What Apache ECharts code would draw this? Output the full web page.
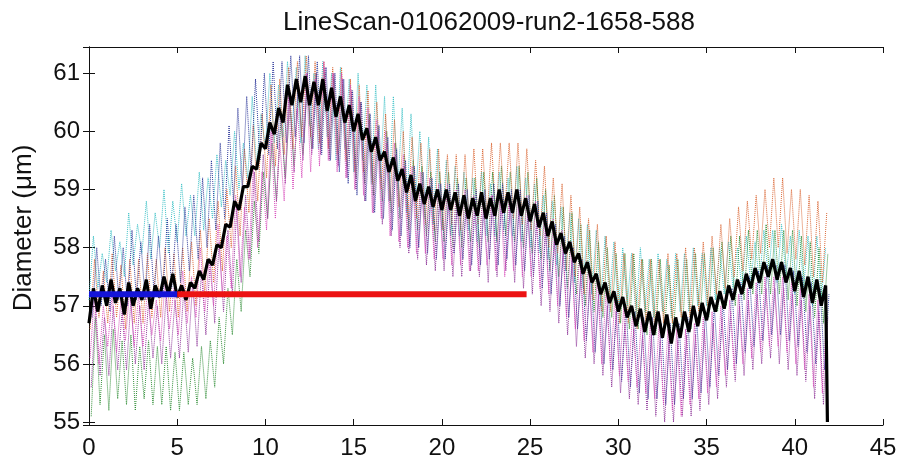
<!DOCTYPE html>
<html>
<head>
<meta charset="utf-8">
<script src="https://cdn.jsdelivr.net/npm/echarts@6/dist/echarts.min.js"></script>
<style>
html,body{margin:0;padding:0;background:#fff;}
#chart{width:900px;height:461px;}
</style>
</head>
<body>
<div id="chart"></div>
<script>
const titleText = 'LineScan-01062009-run2-1658-588';
const yAxisName = 'Diameter (\u03bcm)';
const xTicks = [0, 5, 10, 15, 20, 25, 30, 35, 40, 45];
const yTicks = [55, 56, 57, 58, 59, 60, 61];

// sample positions (time) for all traces; last sample is the end drop
const xStep = 0.25;
const xs = Array.from({length: 168}, (_, i) => i * xStep);
xs.push(41.85);

// mean diameter (black)
const meanTrace = [
56.7,57.3,56.9,57.35, 57.0,57.45,57.05,57.3, 56.85,57.4,57.0,57.3, 57.1,57.45,56.95,57.35,
57.15,57.5,57.2,57.55, 57.15,57.35,57.1,57.4, 57.3,57.6,57.45,57.8, 57.7,58.05,58.0,58.4,
58.35,58.8,58.65,59.05, 59.05,59.4,59.35,59.8, 59.7,60.15,59.95,60.4, 60.15,60.8,60.45,60.9,
60.5,60.95,60.45,60.85, 60.45,60.9,60.35,60.75, 60.25,60.6,60.15,60.45, 60.0,60.3,59.85,60.05,
59.65,59.9,59.5,59.65, 59.3,59.55,59.15,59.35, 58.95,59.25,58.8,59.1, 58.75,59.05,58.7,59.0,
58.65,59.0,58.65,58.95, 58.55,58.9,58.5,58.85, 58.55,58.95,58.5,58.85, 58.55,59.0,58.6,58.95,
58.6,59.0,58.55,58.85, 58.45,58.75,58.35,58.6, 58.2,58.45,58.05,58.25, 57.9,58.1,57.75,57.9,
57.55,57.75,57.4,57.55, 57.2,57.4,57.05,57.25, 56.9,57.15,56.8,57.0, 56.65,56.95,56.55,56.9,
56.5,56.9,56.45,56.85, 56.35,56.8,56.45,56.9, 56.55,57.0,56.65,57.05, 56.75,57.15,56.9,57.25,
56.95,57.35,57.1,57.45, 57.2,57.55,57.3,57.65, 57.4,57.75,57.5,57.8, 57.45,57.75,57.4,57.65,
57.25,57.6,57.15,57.5, 57.05,57.45,57.0,57.35, 55.0
];

const cyanTrace = [
57.1,58.2,57.3,57.9, 57.4,58.3,57.6,58.1, 57.5,58.6,57.7,58.4, 57.9,58.8,57.8,58.6,
58.0,59.0,57.9,58.8, 58.1,59.1,58.2,58.9, 58.2,59.3,58.3,59.2, 58.5,59.6,58.7,59.5,
58.9,60.0,59.0,59.8, 59.2,60.6,59.4,60.3, 59.7,61.0,59.8,60.8, 59.9,61.2,60.0,61.1,
59.8,61.3,60.1,61.0, 59.7,61.2,59.9,61.0, 59.5,61.1,59.7,60.9, 59.3,61.0,59.5,60.8,
59.1,60.8,59.2,60.6, 58.8,60.6,59.0,60.4, 58.6,60.3,58.8,60.0, 58.5,59.9,58.4,59.7,
58.3,59.5,58.2,59.4, 58.2,59.3,58.3,59.2, 58.1,59.3,58.2,59.1, 58.2,59.3,58.3,59.2,
58.2,59.4,58.1,59.2, 58.0,59.1,57.9,58.9, 57.8,58.8,57.7,58.7, 57.6,58.6,57.4,58.5,
57.3,58.4,57.2,58.3, 57.0,58.2,57.1,58.1, 56.9,58.0,57.0,57.9, 56.8,58.0,56.9,57.8,
56.8,57.9,56.9,57.8, 56.8,57.9,56.9,57.9, 56.9,58.0,57.0,57.9, 57.0,58.0,57.1,58.0,
57.2,58.1,57.3,58.0, 57.3,58.2,57.4,58.1, 57.4,58.3,57.5,58.3, 57.4,58.4,57.5,58.2,
57.2,58.3,57.3,58.2, 57.0,58.2,57.1,58.0
];

const magentaTrace = [
56.1,57.2,56.0,57.0, 56.3,57.2,56.2,57.1, 56.4,57.3,56.3,57.2, 56.3,57.3,56.5,57.1,
56.4,57.4,56.6,57.3, 56.5,57.6,56.7,57.5, 56.8,58.0,56.9,57.8, 57.0,58.4,57.2,58.2,
57.3,58.9,57.5,58.7, 57.8,59.4,58.0,59.3, 58.3,60.0,58.5,59.8, 58.8,60.6,59.0,60.4,
59.2,61.0,59.3,60.9, 59.4,61.2,59.5,61.0, 59.3,61.0,59.2,60.8, 59.0,60.6,58.9,60.4,
58.6,60.2,58.5,60.0, 58.2,59.8,58.1,59.6, 58.0,59.4,57.9,59.3, 57.9,59.2,57.8,59.1,
57.8,59.1,57.7,59.0, 57.7,59.0,57.6,58.9, 57.6,58.9,57.7,58.9, 57.6,59.0,57.5,58.9,
57.6,59.0,57.5,58.9, 57.5,58.8,57.3,58.6, 57.2,58.5,57.0,58.3, 56.8,58.1,56.6,57.9,
56.4,57.7,56.2,57.5, 56.0,57.3,55.9,57.2, 55.8,57.0,55.7,56.9, 55.6,56.8,55.5,56.7,
55.4,56.7,55.3,56.6, 55.2,56.6,55.1,56.6, 55.3,56.7,55.4,56.8, 55.5,56.9,55.6,57.0,
55.8,57.1,55.9,57.2, 56.0,57.3,56.1,57.4, 56.2,57.5,56.3,57.5, 56.3,57.5,56.2,57.4,
56.0,57.3,55.9,57.2, 55.6,57.1,55.5,56.9
];

const greenTrace = [
55.1,56.8,55.3,56.5, 55.2,56.6,55.4,56.4, 55.3,56.5,55.2,56.3, 55.4,56.4,55.3,56.3,
55.3,56.3,55.2,56.2, 55.2,56.2,55.3,56.1, 55.3,56.3,55.4,56.4, 55.6,56.8,56.0,57.3,
56.5,57.8,56.9,58.3, 57.5,58.8,57.9,59.3, 58.5,59.8,58.8,60.2, 59.2,60.5,59.4,60.7,
59.6,60.9,59.7,61.0, 59.7,61.0,59.6,60.9, 59.5,60.8,59.4,60.6, 59.2,60.5,59.1,60.3,
58.9,60.1,58.8,60.0, 58.6,59.8,58.5,59.6, 58.3,59.5,58.3,59.4, 58.2,59.3,58.1,59.3,
58.1,59.3,58.0,59.2, 58.0,59.2,58.1,59.2, 58.0,59.3,58.1,59.3, 58.1,59.4,58.2,59.3,
58.1,59.4,58.0,59.3, 57.9,59.2,57.8,59.0, 57.6,58.9,57.5,58.7, 57.3,58.6,57.2,58.4,
57.0,58.3,56.9,58.1, 56.8,58.0,56.8,57.9, 56.7,57.9,56.6,57.9, 56.6,57.8,56.5,57.8,
56.5,57.8,56.6,57.7, 56.5,57.8,56.6,57.8, 56.6,57.9,56.7,57.9, 56.8,58.0,56.9,58.1,
57.0,58.2,57.0,58.2, 57.1,58.3,57.2,58.3, 57.2,58.4,57.2,58.3, 57.2,58.3,57.1,58.3,
57.0,58.2,56.9,58.1, 56.8,58.0,56.7,57.9
];

const blueTrace = [
56.8,58.0,57.0,57.8, 56.9,58.2,57.1,58.0, 57.0,58.3,57.1,58.1, 57.1,58.4,57.2,58.2,
57.2,58.5,57.3,58.4, 57.4,58.7,57.6,58.9, 57.8,59.2,58.0,59.5, 58.3,59.8,58.5,60.1,
58.8,60.4,59.0,60.6, 59.3,60.9,59.5,61.0, 59.6,61.2,59.7,61.2, 59.8,61.3,59.9,61.3,
59.8,61.3,59.7,61.2, 59.6,61.1,59.5,61.0, 59.3,60.9,59.1,60.7, 58.9,60.5,58.8,60.3,
58.6,60.1,58.5,59.9, 58.3,59.7,58.2,59.5, 58.0,59.4,58.0,59.3, 57.9,59.2,57.8,59.1,
57.8,59.1,57.9,59.1, 57.8,59.0,57.7,59.0, 57.7,59.0,57.8,59.1, 57.7,59.1,57.8,59.0,
57.7,59.0,57.6,58.9, 57.5,58.8,57.3,58.6, 57.2,58.4,57.0,58.2, 56.8,58.0,56.6,57.8,
56.4,57.6,56.2,57.4, 56.0,57.2,55.9,57.1, 55.7,57.0,55.6,56.9, 55.5,56.8,55.4,56.8,
55.4,56.7,55.3,56.7, 55.3,56.7,55.4,56.8, 55.4,56.8,55.5,56.9, 55.6,57.0,55.8,57.1,
55.9,57.3,56.0,57.4, 56.2,57.5,56.3,57.6, 56.4,57.7,56.5,57.7, 56.5,57.7,56.4,57.6,
56.3,57.5,56.2,57.4, 56.0,57.3,55.9,57.2
];

const orangeTrace = [
56.6,57.8,56.8,57.6, 56.7,57.9,56.8,57.7, 56.6,57.8,56.7,57.8, 56.7,57.9,56.8,57.8,
56.8,58.0,56.9,57.9, 56.8,58.0,56.9,58.1, 57.0,58.3,57.2,58.5, 57.4,58.8,57.6,59.0,
58.0,59.4,58.2,59.7, 58.6,60.1,58.8,60.3, 59.2,60.8,59.4,60.9, 59.6,61.1,59.7,61.2,
59.9,61.3,59.9,61.2, 59.8,61.2,59.7,61.1, 59.6,61.1,59.5,60.9, 59.3,60.8,59.3,60.7,
59.1,60.5,59.0,60.3, 58.8,60.2,58.7,60.0, 58.5,59.9,58.5,59.8, 58.4,59.7,58.3,59.7,
58.3,59.6,58.4,59.6, 58.3,59.6,58.4,59.7, 58.4,59.7,58.5,59.8, 58.5,59.8,58.6,59.8,
58.5,59.8,58.4,59.7, 58.3,59.5,58.2,59.4, 58.0,59.2,57.9,59.1, 57.6,58.9,57.5,58.7,
57.2,58.5,57.1,58.4, 56.9,58.2,56.9,58.1, 56.7,57.9,56.7,57.9, 56.6,57.8,56.7,57.8,
56.6,57.8,56.7,57.9, 56.7,57.9,56.8,58.0, 56.8,58.0,56.9,58.1, 57.0,58.2,57.2,58.4,
57.3,58.5,57.5,58.7, 57.6,58.8,57.8,58.9, 57.9,59.0,58.0,59.2, 58.0,59.2,57.9,59.0,
57.8,59.0,57.7,58.9, 57.5,58.8,57.4,58.6
];

const purpleTrace = [
55.6,57.0,55.8,56.8, 55.8,57.0,55.9,56.9, 55.9,57.1,56.0,57.0, 55.9,57.1,56.1,57.0,
56.0,57.2,56.1,57.1, 56.1,57.3,56.2,57.4, 56.3,57.6,56.5,57.8, 56.7,58.1,56.9,58.3,
57.2,58.7,57.4,58.9, 57.8,59.3,58.1,59.6, 58.5,60.0,58.8,60.3, 59.1,60.6,59.3,60.8,
59.5,61.0,59.6,61.0, 59.6,61.1,59.5,61.0, 59.4,60.9,59.2,60.7, 59.0,60.5,58.8,60.2,
58.6,60.0,58.4,59.8, 58.2,59.6,58.0,59.4, 57.9,59.2,57.8,59.1, 57.7,59.0,57.6,58.9,
57.6,58.9,57.5,58.8, 57.5,58.8,57.6,58.8, 57.5,58.8,57.4,58.9, 57.5,58.9,57.6,58.9,
57.4,58.8,57.3,58.7, 57.2,58.5,57.0,58.4, 56.9,58.2,56.7,58.0, 56.5,57.8,56.3,57.6,
56.1,57.4,56.0,57.2, 55.8,57.0,55.6,56.9, 55.5,56.7,55.4,56.6, 55.3,56.5,55.2,56.5,
55.1,56.4,55.0,56.4, 55.0,56.4,55.1,56.5, 55.1,56.5,55.2,56.6, 55.3,56.7,55.4,56.8,
55.6,56.9,55.7,57.0, 55.8,57.1,55.9,57.2, 56.0,57.3,56.1,57.3, 56.0,57.3,55.9,57.2,
55.8,57.1,55.7,57.0, 55.4,56.9,55.3,56.8
];

// baseline segments: [xStart, xEnd, level]
const baselineBlue = [0, 5.0, 57.2];
const baselineRed = [5.0, 24.8, 57.2];

// each trace was sampled on its own slightly shifted time grid
const traces = [
  {name: 'cyan', values: cyanTrace, color: '#36bfc4', shift: 0},
  {name: 'green', values: greenTrace, color: '#2a8a30', shift: 0.125},
  {name: 'orange', values: orangeTrace, color: '#d9622e', shift: 0.0625},
  {name: 'blue', values: blueTrace, color: '#2a3598', shift: 0.1875},
  {name: 'purple', values: purpleTrace, color: '#8b2f96', shift: 0.125},
  {name: 'magenta', values: magentaTrace, color: '#d646b8', shift: 0.0625}
];

const pairs = (vals, shift) => vals.map((v, i) => [xs[i] + (shift || 0), v]);

const series = traces.map(t => ({
  type: 'line', name: t.name, data: pairs(t.values, t.shift), showSymbol: false, symbol: 'none',
  xAxisIndex: 0, yAxisIndex: 0, silent: true,
  lineStyle: {color: t.color, width: 1, type: 'dotted', opacity: 0.95}
}));
series.push({
  type: 'line', name: 'mean', data: pairs(meanTrace, 0), symbol: 'none', silent: true,
  lineStyle: {color: '#000', width: 3.2}
});
series.push({
  type: 'line', name: 'base1', symbol: 'none', silent: true,
  data: [[baselineBlue[0], baselineBlue[2]], [baselineBlue[1], baselineBlue[2]]],
  lineStyle: {color: '#1414d8', width: 6}
});
series.push({
  type: 'line', name: 'base2', symbol: 'none', silent: true,
  data: [[baselineRed[0], baselineRed[2]], [baselineRed[1], baselineRed[2]]],
  lineStyle: {color: '#ec1212', width: 6}
});

const fontFam = 'Liberation Sans, Arial, sans-serif';
const axisCommon = {
  axisLine: {show: true, lineStyle: {color: '#111', width: 1}},
  axisTick: {show: true, inside: true, length: 6, lineStyle: {color: '#111'}},
  splitLine: {show: false}
};

const chart = echarts.init(document.getElementById('chart'), null, {renderer: 'canvas'});
chart.setOption({
  animation: false,
  backgroundColor: '#fff',
  title: {
    text: titleText, left: 484, top: 5, textAlign: 'center',
    textStyle: {fontFamily: fontFam, fontSize: 26, fontWeight: 'normal', color: '#111'}
  },
  grid: {left: 89, right: 17, top: 47, bottom: 36, show: false},
  xAxis: [
    Object.assign({
      type: 'value', min: xTicks[0], max: xTicks[xTicks.length - 1], interval: 5, position: 'bottom',
      axisLabel: {fontFamily: fontFam, fontSize: 24, color: '#111', margin: 11}
    }, axisCommon),
    Object.assign({
      type: 'value', min: xTicks[0], max: xTicks[xTicks.length - 1], interval: 5, position: 'top',
      axisLabel: {show: false}
    }, axisCommon)
  ],
  yAxis: [
    Object.assign({
      type: 'value', min: 54.95, max: 61.45, splitNumber: 6, position: 'left',
      name: yAxisName, nameLocation: 'middle', nameGap: 52, nameRotate: 90,
      nameTextStyle: {fontFamily: fontFam, fontSize: 26, color: '#111', padding: [0, 0, 0, 16]},
      axisLabel: {fontFamily: fontFam, fontSize: 24, color: '#111', margin: 9,
        showMinLabel: false, showMaxLabel: false,
        formatter: v => (yTicks.indexOf(Math.round(v * 100) / 100) >= 0 ? String(Math.round(v)) : '')}
    }, axisCommon),
    Object.assign({
      type: 'value', min: 54.95, max: 61.45, splitNumber: 6, position: 'right',
      axisLabel: {show: false}
    }, axisCommon)
  ],
  series: series
});
</script>
</body>
</html>
